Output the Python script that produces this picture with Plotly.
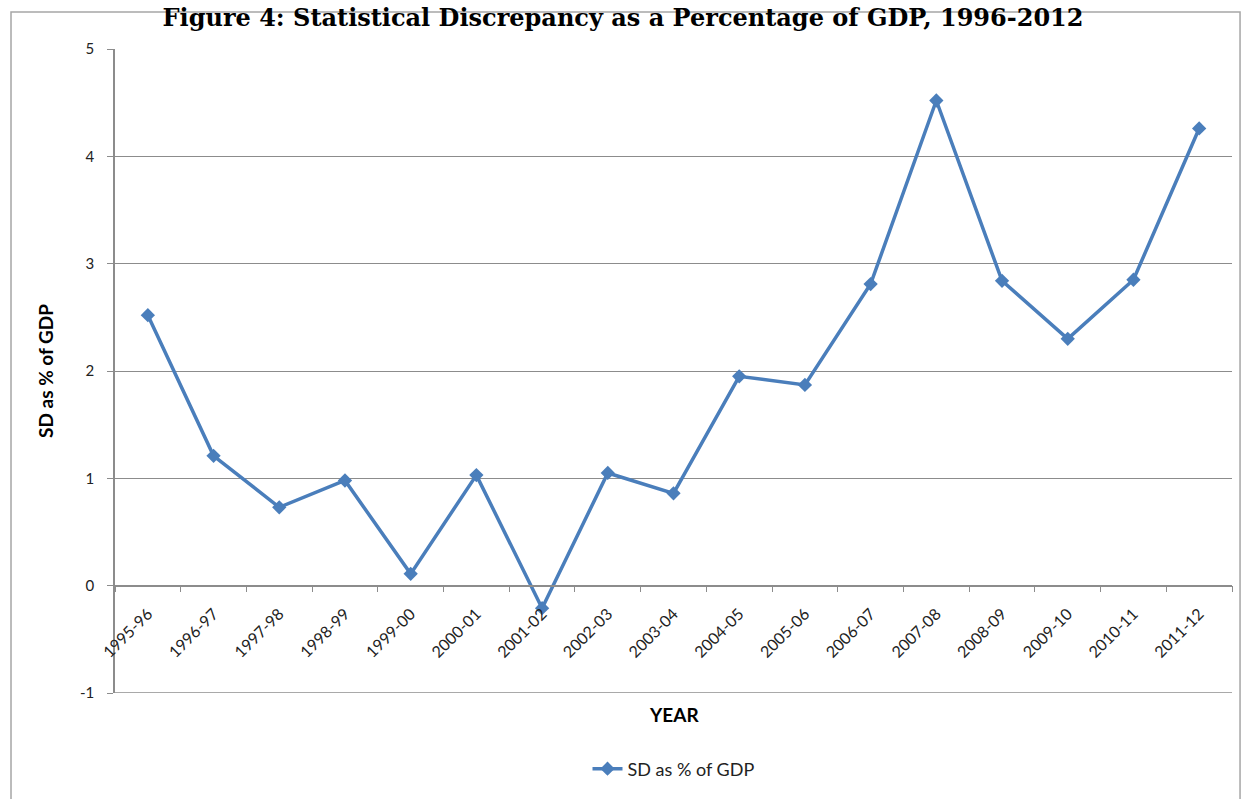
import plotly.graph_objects as go

# Fiscal years on the category axis
years = ["1995-96", "1996-97", "1997-98", "1998-99", "1999-00", "2000-01",
         "2001-02", "2002-03", "2003-04", "2004-05", "2005-06", "2006-07",
         "2007-08", "2008-09", "2009-10", "2010-11", "2011-12"]

# Statistical discrepancy, % of GDP
sd_pct_gdp = [2.52, 1.21, 0.73, 0.98, 0.11, 1.03, -0.21, 1.05, 0.86,
              1.95, 1.87, 2.81, 4.52, 2.84, 2.30, 2.85, 4.26]

y_ticks = [-1, 0, 1, 2, 3, 4, 5]
y_tick_text = ["-1", "0", "1", "2", "3", "4", "5"]

LINE_BLUE = "#4A7EBB"
GRID = "#8C8C8C"
TEXT_FONT = "Lato"

fig = go.Figure()
fig.add_trace(go.Scatter(
    x=years, y=sd_pct_gdp, mode="lines+markers", name="SD as % of GDP",
    line=dict(color=LINE_BLUE, width=3.5),
    marker=dict(symbol="diamond", size=11, color=LINE_BLUE),
))

fig.update_layout(
    width=1246, height=799,
    margin=dict(l=115, r=14, t=49, b=106),
    paper_bgcolor="white", plot_bgcolor="white",
    font=dict(family=TEXT_FONT, size=15, color="#222222"),
    title=dict(
        text="<b>Figure 4: Statistical Discrepancy as a Percentage of GDP, 1996-2012</b>",
        font=dict(family="DejaVu Serif", size=24, color="black"),
        x=0.5, xref="container", xanchor="center",
        y=0.989, yref="container", yanchor="top",
        pad=dict(t=0, b=0),
    ),
    showlegend=True,
    legend=dict(orientation="h", x=0.5, xanchor="center", y=-0.118, yanchor="middle",
                font=dict(family=TEXT_FONT, size=18, color="#222222"),
                bgcolor="rgba(0,0,0,0)"),
    xaxis=dict(
        type="category", range=[-0.5, len(years) - 0.5],
        anchor="free", position=1/6,
        showline=True, linecolor=GRID, linewidth=1.5,
        ticks="outside", tickson="boundaries", ticklen=6, tickcolor=GRID,
        tickangle=-45, showgrid=False, ticklabelstandoff=12,
        tickfont=dict(family=TEXT_FONT, size=16, color="#222222"),
    ),
    yaxis=dict(
        range=[-1, 5], tickvals=y_ticks, ticktext=y_tick_text,
        showline=True, linecolor=GRID, linewidth=1.5,
        ticks="outside", ticklen=6, tickcolor=GRID,
        showgrid=True, gridcolor=GRID, gridwidth=1.2,
        zeroline=False, ticklabelstandoff=10,
        tickfont=dict(family=TEXT_FONT, size=15, color="#222222"),
    ),
    annotations=[
        dict(text="<b>SD as % of GDP</b>", textangle=-90,
             xref="paper", yref="paper", x=-0.0627, y=0.5,
             xanchor="center", yanchor="middle",
             showarrow=False, font=dict(family=TEXT_FONT, size=19, color="black")),
        dict(text="<b>YEAR</b>", xref="paper", yref="paper", x=0.5, y=-0.034,
             xanchor="center", yanchor="middle",
             showarrow=False, font=dict(family=TEXT_FONT, size=19, color="black")),
    ],
    shapes=[
        # outer chart frame
        dict(type="rect", xref="paper", yref="paper",
             x0=-0.0931, x1=1.0072, y0=-0.25, y1=1.0575,
             line=dict(color="#A6A6A6", width=1.5), layer="below"),
        # bottom gridline at the range floor
        dict(type="line", xref="paper", yref="y", x0=0, x1=1, y0=-1, y1=-1,
             line=dict(color=GRID, width=1.5)),
    ],
)

fig.write_html("out.html")
